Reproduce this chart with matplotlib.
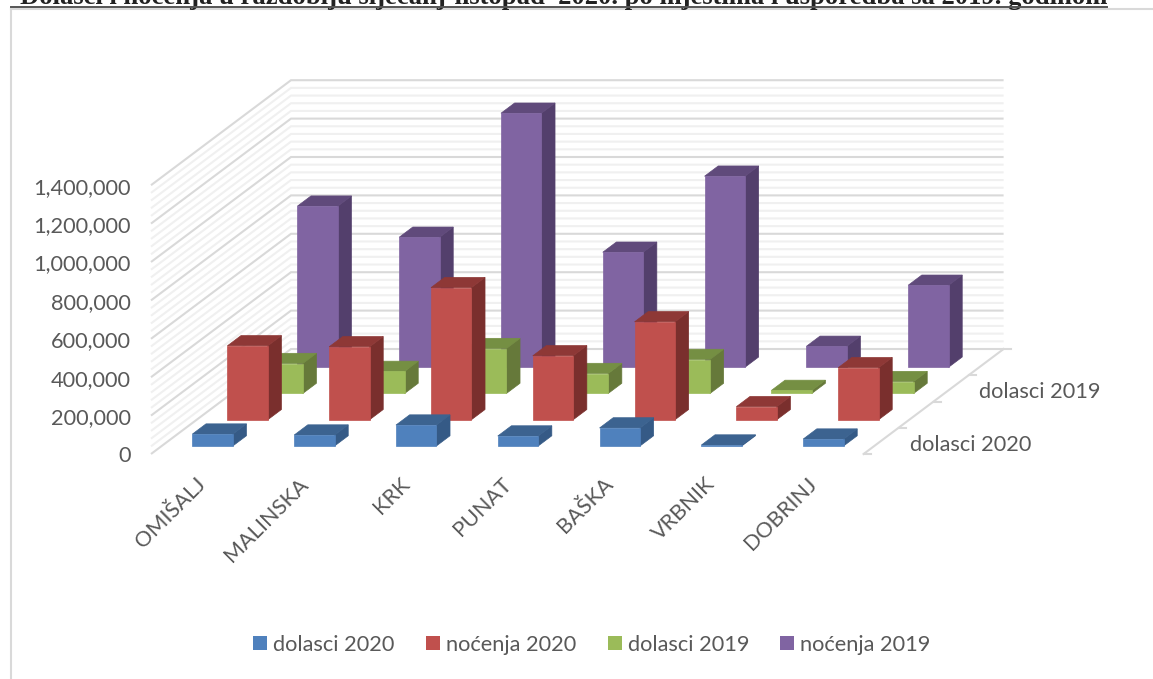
import matplotlib
matplotlib.use("Agg")
import matplotlib.pyplot as plt
from matplotlib.patches import Polygon, Rectangle

categories = ["OMIŠALJ", "MALINSKA", "KRK", "PUNAT", "BAŠKA", "VRBNIK", "DOBRINJ"]
series_names = ["dolasci 2020", "noćenja 2020", "dolasci 2019", "noćenja 2019"]
dolasci_2020 = [62000, 57000, 109000, 52000, 94000, 5000, 36000]
nocenja_2020 = [385000, 380000, 688000, 333000, 510000, 68000, 271000]
dolasci_2019 = [156000, 115000, 234000, 104000, 177000, 16000, 62000]
nocenja_2019 = [839000, 677000, 1323000, 599000, 995000, 109000, 427000]
value_ticks = [0, 200000, 400000, 600000, 800000, 1000000, 1200000, 1400000]
title = "Dolasci i noćenja u razdoblju siječanj-listopad  2020. po mjestima i usporedba sa 2019. godinom"

series = [dolasci_2020, nocenja_2020, dolasci_2019, nocenja_2019]
colors = [("#4F81BD", "#355A86", "#3C6390"),
          ("#C0504D", "#7A2F2D", "#8E3836"),
          ("#9BBB59", "#66793A", "#758F43"),
          ("#8064A2", "#533F6C", "#604A7B")]

W, H = 1153, 679
FONT = "Lato"
GREY = "#595959"
plt.rcParams["font.family"] = [FONT, "DejaVu Sans"]

fig = plt.figure(figsize=(W / 100, H / 100), dpi=100)
ax = fig.add_axes([0, 0, 1, 1])
ax.set_xlim(0, W)
ax.set_ylim(H, 0)
ax.axis("off")

# oblique projection: category units, depth (series-row) units, value
X0, Y0 = 151.0, 454.0
CAT = 101.8
DX, DY = 35.0, 26.25
K = 19.2 / 100000
NC, NS = len(categories), len(series)
BAR_W = 40.4 / CAT
BAR_D = 0.39


def P(c, d, v=0):
    return (X0 + CAT * c + DX * d, Y0 - DY * d - K * v)


# chart frame and clipped title
ax.plot([11, W], [9, 9], color="#d9d9d9", lw=1.5, zorder=1)
ax.plot([11, 11], [9, H], color="#d9d9d9", lw=1.5, zorder=1)
ax.text(20, 4.5, title, family="Liberation Serif", weight="bold", fontsize=19.2,
        color="#222222", ha="left", va="baseline", zorder=2)
ax.plot([11, 1107], [6.8, 6.8], color="#555555", lw=1.4, zorder=3)

# walls
for v in range(0, 1400001, 40000):
    major = v % 200000 == 0
    col, lw = ("#d9d9d9", 1.5) if major else ("#f0f0f0", 1.5)
    a, b, c = P(0, 0, v), P(0, NS, v), P(NC, NS, v)
    ax.plot([a[0], b[0], c[0]], [a[1], b[1], c[1]], color=col, lw=lw, zorder=3 if major else 2,
            solid_joinstyle="miter", solid_capstyle="butt")

# floor right edge and ticks
a, b = P(NC, 0), P(NC, NS)
ax.plot([a[0], b[0]], [a[1], b[1]], color="#d9d9d9", lw=1.5, zorder=3)
for d in range(NS + 1):
    p = P(NC, d)
    ax.plot([p[0], p[0] + 7], [p[1], p[1]], color="#d9d9d9", lw=1.5, zorder=3)

# bars, back to front
z = 10
for s in range(NS - 1, -1, -1):
    face, side, top = colors[s]
    for i, v in enumerate(series[s]):
        c0 = i + (1 - BAR_W) / 2
        c1 = c0 + BAR_W
        d0 = s + (1 - BAR_D) / 2
        d1 = d0 + BAR_D
        ax.add_patch(Polygon([P(c1, d0), P(c1, d1), P(c1, d1, v), P(c1, d0, v)],
                             fc=side, ec=side, lw=0.5, zorder=z))
        ax.add_patch(Polygon([P(c0, d0, v), P(c1, d0, v), P(c1, d1, v), P(c0, d1, v)],
                             fc=top, ec=top, lw=0.5, zorder=z))
        ax.add_patch(Polygon([P(c0, d0), P(c1, d0), P(c1, d0, v), P(c0, d0, v)],
                             fc=face, ec=face, lw=0.5, zorder=z + 1))
        z += 2

# value labels
for v in value_ticks:
    ax.text(131, P(0, 0, v)[1] + 0.5, f"{v:,}", ha="right", va="center_baseline",
            fontsize=15.7, color=GREY, zorder=100)

# category labels
for i, name in enumerate(categories):
    px, _ = P(i + 0.5, 0)
    ax.text(px + 1, 481, name, rotation=45, rotation_mode="anchor", ha="right", va="center",
            fontsize=15.6, color=GREY, zorder=100)

# series labels on the depth axis
for d, (name, lx, ly) in {0: (series_names[0], 910, 443), 2: (series_names[2], 979, 390)}.items():
    ax.text(lx, ly, name, ha="left", va="center_baseline", fontsize=15.7, color=GREY, zorder=100)

# legend
legend_x = [253, 426, 608, 780]
for s, lx in enumerate(legend_x):
    ax.add_patch(Rectangle((lx, 636), 14, 14, fc=colors[s][0], ec="none", zorder=100))
    ax.text(lx + 20, 643, series_names[s], ha="left", va="center_baseline",
            fontsize=15.7, color=GREY, zorder=100)

fig.savefig("out.png", dpi=100)
